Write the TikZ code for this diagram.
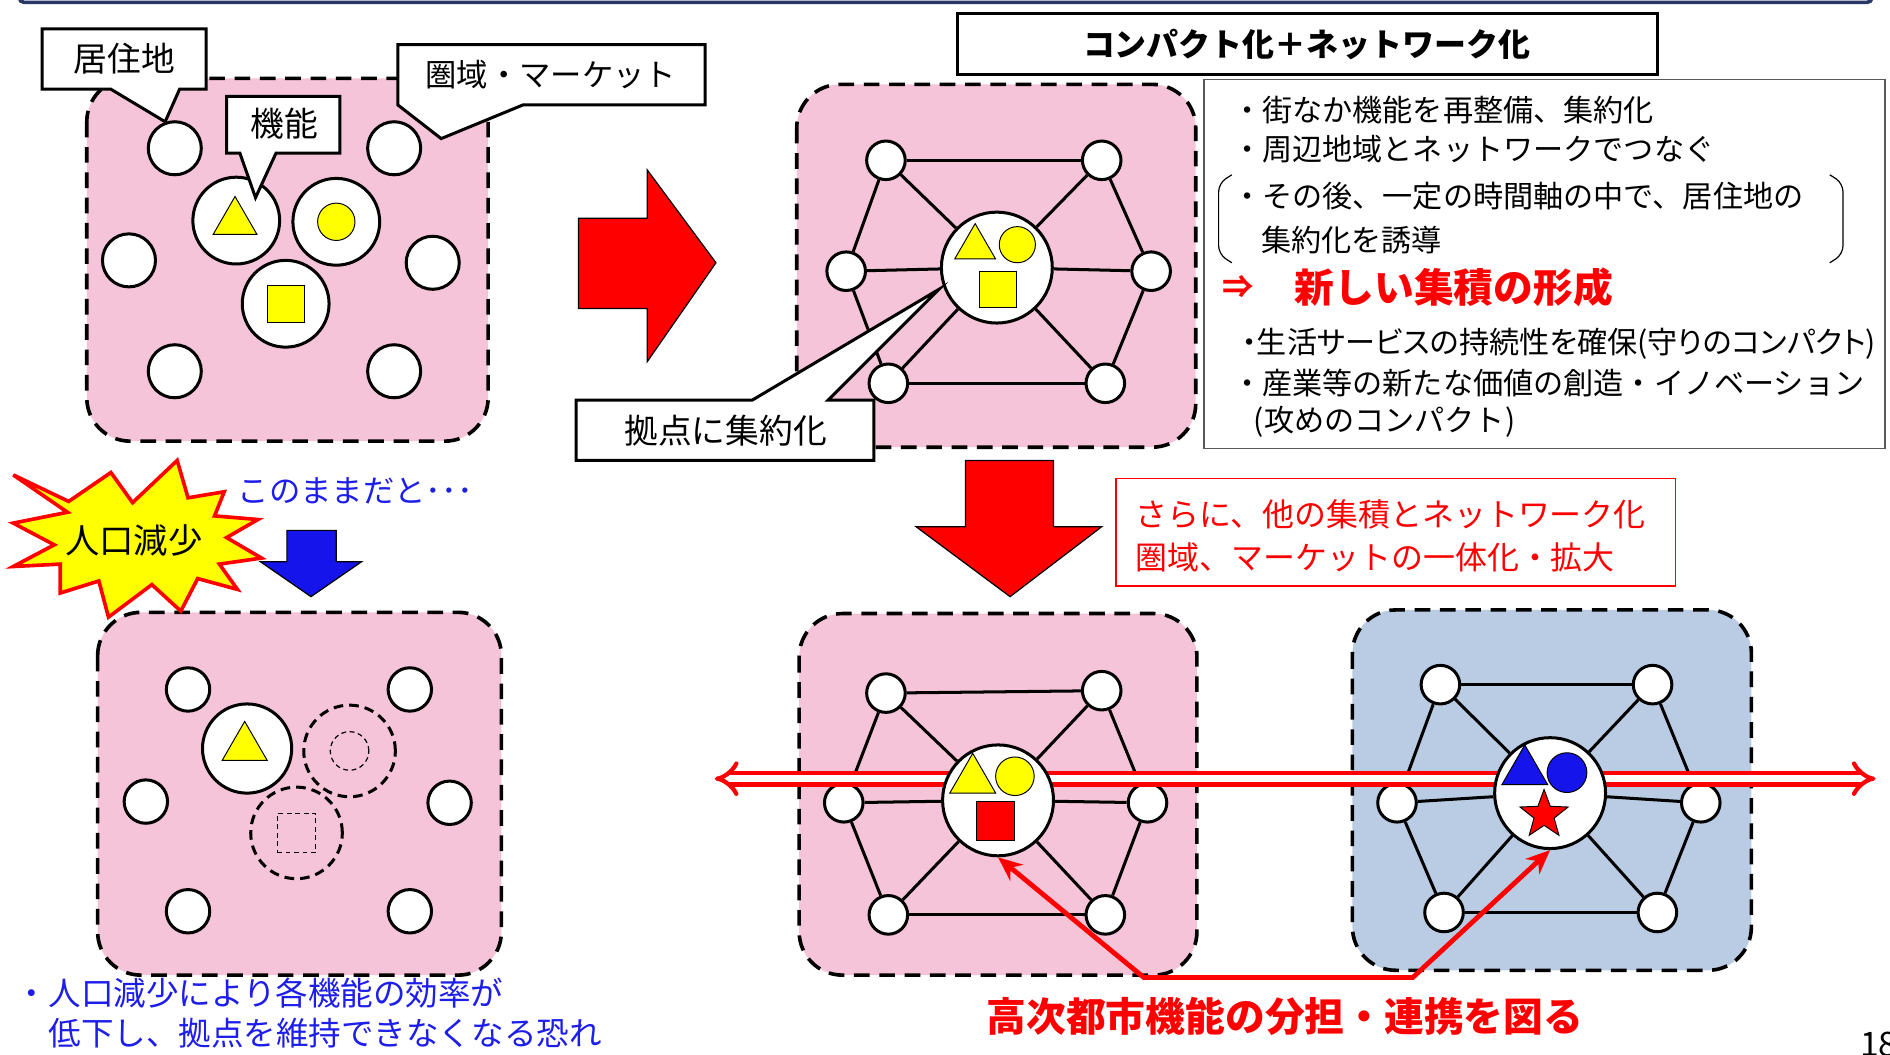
\documentclass[tikz,border=0pt]{standalone}
\usepackage{fontspec}
\setmainfont{Noto Sans CJK JP}
\newfontfamily\propjp{Noto Sans CJK JP}[RawFeature=+palt]
\usetikzlibrary{shapes.geometric, arrows.meta, positioning}

\definecolor{panelpink}{RGB}{246,196,216}
\definecolor{panelblue}{RGB}{186,204,228}
\definecolor{navyline}{RGB}{40,55,100}
\definecolor{fyellow}{RGB}{255,255,0}
\definecolor{fblue}{RGB}{20,20,235}
\definecolor{tblue}{RGB}{30,30,235}
\definecolor{fred}{RGB}{255,0,0}

\pgfdeclarelayer{bg}
\pgfsetlayers{bg,main}

\begin{document}
\begin{tikzpicture}[x=1pt, y=-1pt,
  panel/.style = {draw, line width=3pt, dash pattern=on 13pt off 8pt, rounded corners=36pt},
  home/.style = {draw, circle, fill=white, line width=2.5pt, minimum size=44pt, inner sep=0pt},
  hex/.style = {draw, circle, fill=white, line width=2.5pt, minimum size=32pt, inner sep=0pt},
  hub/.style = {draw, circle, fill=white, line width=2.5pt, minimum size=72pt, inner sep=0pt},
  core/.style = {draw, circle, fill=white, line width=2.5pt, minimum size=92pt, inner sep=0pt},
  gone/.style = {draw, circle, line width=2.5pt, dash pattern=on 8pt off 5pt, minimum size=76pt, inner sep=0pt},
  tri/.style = {draw, regular polygon, regular polygon sides=3, line width=0.8pt, fill=fyellow, minimum size=42pt, inner sep=0pt},
  dot/.style = {draw, circle, line width=0.8pt, fill=fyellow, minimum size=31pt, inner sep=0pt},
  sq/.style = {draw, rectangle, line width=0.8pt, fill=fyellow, minimum size=31pt, inner sep=0pt},
  link/.style = {line width=2.5pt},
  callout/.style = {draw, fill=white, line width=2.5pt, line join=miter},
  bigarrow/.style = {draw=black, line width=1pt, fill=fred},
  lbl/.style = {inner sep=0pt, font=\fontsize{28}{32}\selectfont},
  txt/.style = {anchor=west, inner sep=0pt, font=\fontsize{25}{28}\selectfont}
]
\useasboundingbox (0,0) rectangle (1568,875);

% panels
\begin{pgfonlayer}{bg}
\fill[white] (0,0) rectangle (1568,875);
\draw[panel, fill=panelpink] (72,65) rectangle (405,366);
\draw[panel, fill=panelpink] (661,70) rectangle (992,371);
\draw[panel, fill=panelpink] (81,508) rectangle (416,809);
\draw[panel, fill=panelpink] (663,509) rectangle (993,809);
\draw[panel, fill=panelblue] (1122,506) rectangle (1453,805);
\end{pgfonlayer}

% top frame
\draw[navyline, line width=3pt, rounded corners=4pt] (16,-10) -- (16,2) -- (1553,2) -- (1553,-10);

% ---- panel 1 : now
\node[home] (h1) at (145,123) {};
\node[home] (h2) at (327,123) {};
\node[home] (h3) at (107,216) {};
\node[home] (h4) at (359,218) {};
\node[home] (h5) at (145,308) {};
\node[home] (h6) at (327,308) {};
\node[hub] (f1) at (196,183) {};
\node[hub] (f2) at (279,184) {};
\node[hub] (f3) at (237,252) {};
\node[tri, minimum size=42pt] (t1) at (195,184) {};
\node[dot] (d1) at (f2) {};
\node[sq] (s1) at (f3) {};

\draw[callout] (35,24) -- (171,24) -- (171,74) -- (149,74) -- (137,101) -- (92,74) -- (35,74) -- cycle;
\node[lbl] (juu) at (103,49) {居住地};
\draw[callout] (188,80) -- (282,80) -- (282,127) -- (229,127) -- (212,164) -- (199,127) -- (188,127) -- cycle;
\node[lbl] (kino) at (236,103) {機能};
\draw[callout] (330,37) -- (585,37) -- (585,87) -- (434,87) -- (366,115) -- (330,87) -- cycle;
\node[lbl, font=\fontsize{26}{30}\selectfont] (ken) at (457,62) {圏域・マーケット};

% right arrow
\draw[bigarrow] (480,181) -- (537,181) -- (537,141) -- (594,218) -- (537,300) -- (537,256) -- (480,256) -- cycle;

% ---- panel 2 : compact + network
\node[hex] (a1) at (735,133) {};
\node[hex] (a2) at (914,133) {};
\node[hex] (a3) at (702,225) {};
\node[hex] (a4) at (955,225) {};
\node[hex] (a5) at (737,318) {};
\node[hex] (a6) at (917,318) {};
\node[core] (c2) at (827,222) {};
\node[tri, minimum size=39pt] (t2) at (809,205) {};
\node[dot, minimum size=30pt] (d2) at (844,203) {};
\node[sq, minimum size=30pt] (s2) at (828,240) {};

\draw[callout] (478,332) -- (624,332) -- (779,240) -- (687,332) -- (725,332) -- (725,382) -- (478,382) -- cycle;
\node[lbl] (kyo) at (602,357) {拠点に集約化};

% title and text box
\draw[line width=2.5pt] (794,11) rectangle (1375,62);
\node[lbl, font=\bfseries\fontsize{26.5}{30}\selectfont] (ttl) at (1084,37) {コンパクト化＋ネットワーク化};
\draw[gray!70!black, line width=1.2pt] (999,66) rectangle (1564,372);
\node[txt] (m1) at (1022,91) {・街なか機能を再整備、集約化};
\node[txt] (m2) at (1022,124) {・周辺地域とネットワークでつなぐ};
\node[txt] (m3) at (1022,163) {・その後、一定の時間軸の中で、居住地の};
\node[txt] (m4) at (1046,199) {集約化を誘導};
\draw[line width=1pt, rounded corners=7pt] (1022,145) -- (1011,152) -- (1011,211) -- (1022,218);
\draw[line width=1pt, rounded corners=7pt] (1518,145) -- (1529,152) -- (1529,211) -- (1518,218);
\node[txt, text=fred, font=\bfseries\fontsize{26}{30}\selectfont] (imp) at (1014,238) {⇒};
\node[txt, text=fred, font=\bfseries\fontsize{33}{36}\selectfont] (shin) at (1074,238) {新しい集積の形成};
\node[txt, font=\propjp\fontsize{25}{28}\selectfont] (m6) at (1030,285) {・生活サービスの持続性を確保(守りのコンパクト)};
\node[txt] (m7) at (1022,318) {・産業等の新たな価値の創造・イノベーション};
\node[txt] (m8) at (1040,350) {(攻めのコンパクト)};

% ---- decline side
\draw[fred, line width=3pt, fill=fyellow, line join=miter] (11,394) -- (57,416) -- (92,392) -- (110,417) -- (147,382) -- (156,413) -- (186,408) -- (178,428) -- (214,431) -- (188,446) -- (217,463) -- (182,468) -- (197,489) -- (164,480) -- (150,507) -- (126,485) -- (90,512) -- (82,482) -- (50,492) -- (50,468) -- (11,470) -- (45,452) -- (11,434) -- (56,425) -- cycle;
\node[lbl, font=\fontsize{28.5}{32}\selectfont] (jinko) at (111,448) {人口減少};
\node[txt, text=tblue, font=\fontsize{26}{28}\selectfont] (kono) at (197,407) {このままだと･･･};
\draw[draw=black, line width=1pt, fill=fblue] (238,440) -- (279,440) -- (279,466) -- (300,466) -- (258,495) -- (216,466) -- (238,466) -- cycle;

% ---- panel 3 : decline
\node[home, minimum size=36pt] (q1) at (156,572) {};
\node[home, minimum size=36pt] (q2) at (340,572) {};
\node[home, minimum size=36pt] (q3) at (121,665) {};
\node[home, minimum size=36pt] (q4) at (373,666) {};
\node[home, minimum size=36pt] (q5) at (156,756) {};
\node[home, minimum size=36pt] (q6) at (340,756) {};
\node[hub, minimum size=74pt] (g1) at (205,621) {};
\node[tri, minimum size=43pt] (t3) at (203,620) {};
\node[gone] (g2) at (290,623) {};
\node[draw, circle, line width=1pt, dash pattern=on 4pt off 3pt, minimum size=32pt, inner sep=0pt] (g2i) at (g2) {};
\node[gone] (g3) at (246,691) {};
\node[draw, rectangle, line width=1pt, dash pattern=on 4pt off 3pt, minimum size=32pt, inner sep=0pt] (g3i) at (g3) {};
\node[txt, text=tblue, font=\fontsize{27}{30}\selectfont] (gen1) at (13,824) {・人口減少により各機能の効率が};
\node[txt, text=tblue, font=\fontsize{27}{30}\selectfont] (gen2) at (40,857) {低下し、拠点を維持できなくなる恐れ};

% down arrow
\draw[bigarrow] (801,382) -- (874,382) -- (874,437) -- (914,437) -- (838,495) -- (760,437) -- (801,437) -- cycle;
\draw[fred, line width=1.5pt] (926,397) rectangle (1390,486);
\node[txt, text=fred, font=\fontsize{26.5}{28}\selectfont] (sara1) at (942,427) {さらに、他の集積とネットワーク化};
\node[txt, text=fred, font=\fontsize{26.5}{28}\selectfont] (sara2) at (942,462) {圏域、マーケットの一体化・拡大};

% ---- panel 4 and 5 : linked cities
\node[hex] (b1) at (735,575) {};
\node[hex] (b2) at (914,573) {};
\node[hex] (b3) at (700,666) {};
\node[hex] (b4) at (952,666) {};
\node[hex] (b5) at (737,759) {};
\node[hex] (b6) at (917,759) {};
\node[hex] (e1) at (1195,568) {};
\node[hex] (e2) at (1371,568) {};
\node[hex] (e3) at (1159,666) {};
\node[hex] (e4) at (1411,666) {};
\node[hex] (e5) at (1198,757) {};
\node[hex] (e6) at (1375,757) {};

\coordinate (wl) at (593,646);
\coordinate (wr) at (1556,646);
\draw[fred, line width=3.5pt, double=white, double distance=6pt, {Implies}-{Implies}] (wl) -- (wr);

\node[core] (c4) at (828,664) {};
\node[tri, minimum size=44pt] (t4) at (807,647) {};
\node[dot, minimum size=32pt] (d4) at (842,644) {};
\node[sq, fill=fred, minimum size=32pt] (s4) at (826,681) {};
\node[core] (c5) at (1286,658) {};
\node[tri, fill=fblue, minimum size=44pt] (t5) at (1265,640) {};
\node[dot, fill=fblue, minimum size=33pt] (d5) at (1300,641) {};
\node[draw, star, star points=5, star point ratio=2.4, fill=fred, line width=0.8pt, minimum size=42pt, inner sep=0pt] (st5) at (1281,676) {};

\coordinate (k1) at (949,811);
\coordinate (k2) at (1172,811);
\draw[fred, line width=4pt, {Stealth[length=20pt,width=17pt]}-{Stealth[length=20pt,width=17pt]}] (c4.south) -- (k1) -- (k2) -- (c5.south);
\node[fred, inner sep=0pt, font=\bfseries\fontsize{33}{36}\selectfont] (kou) at (1066,843) {高次都市機能の分担・連携を図る};

\node[anchor=north west, inner sep=0pt, font=\fontsize{28}{30}\selectfont] (pg) at (1543,856) {18};

% network links
\begin{pgfonlayer}{bg}
\draw[link] (a1) -- (a2);
\draw[link] (a1) -- (a3);
\draw[link] (a3) -- (a5);
\draw[link] (a5) -- (a6);
\draw[link] (a6) -- (a4);
\draw[link] (a4) -- (a2);
\draw[link] (a1) -- (c2);
\draw[link] (a2) -- (c2);
\draw[link] (a3) -- (c2);
\draw[link] (a4) -- (c2);
\draw[link] (a5) -- (c2);
\draw[link] (a6) -- (c2);
\draw[link] (b1) -- (b2);
\draw[link] (b1) -- (b3);
\draw[link] (b3) -- (b5);
\draw[link] (b5) -- (b6);
\draw[link] (b6) -- (b4);
\draw[link] (b4) -- (b2);
\draw[link] (b1) -- (c4);
\draw[link] (b2) -- (c4);
\draw[link] (b3) -- (c4);
\draw[link] (b4) -- (c4);
\draw[link] (b5) -- (c4);
\draw[link] (b6) -- (c4);
\draw[link] (e1) -- (e2);
\draw[link] (e1) -- (e3);
\draw[link] (e3) -- (e5);
\draw[link] (e5) -- (e6);
\draw[link] (e6) -- (e4);
\draw[link] (e4) -- (e2);
\draw[link] (e1) -- (c5);
\draw[link] (e2) -- (c5);
\draw[link] (e3) -- (c5);
\draw[link] (e4) -- (c5);
\draw[link] (e5) -- (c5);
\draw[link] (e6) -- (c5);
\end{pgfonlayer}
\end{tikzpicture}
\end{document}
